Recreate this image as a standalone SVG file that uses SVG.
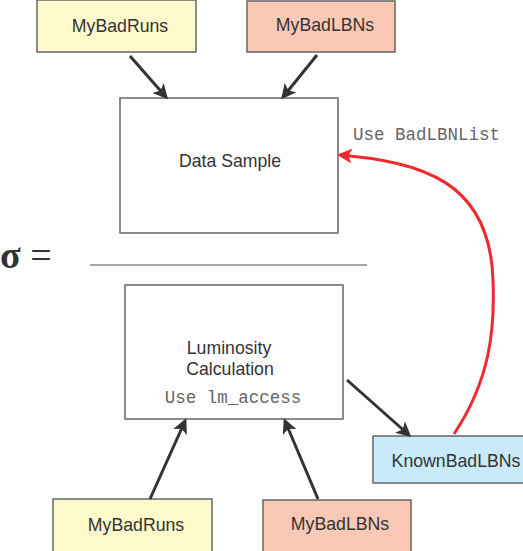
<svg xmlns="http://www.w3.org/2000/svg" width="523" height="551" viewBox="0 0 523 551">
<style>
.box{stroke:#666;stroke-width:1.5}
.lbl{font-family:"Liberation Sans",Arial,sans-serif;font-size:17.7px;fill:#333;text-anchor:middle}
.mono{font-family:"Liberation Mono","Courier New",monospace;font-size:17.5px;fill:#666}
.conn{stroke:#333;stroke-width:3;fill:none;marker-end:url(#ah)}
</style>
<defs>
<marker id="ah" markerWidth="5" markerHeight="5" refX="4" refY="2.5" orient="auto" markerUnits="strokeWidth">
<path d="M0,0 L5,2.5 L0,5 L1.2,2.5 Z" fill="#333"/>
</marker>
<marker id="ahr" markerWidth="5" markerHeight="5" refX="4" refY="2.5" orient="auto" markerUnits="strokeWidth">
<path d="M0,0 L5,2.5 L0,5 L1.2,2.5 Z" fill="#ee2a2f"/>
</marker>
</defs>
<rect width="523" height="551" fill="#fff"/>
<g id="top-runs"><rect class="box" x="37" y="0" width="159" height="52" fill="#fefacc"/><text class="lbl" x="120" y="32">MyBadRuns</text></g>
<g id="top-lbns"><rect class="box" x="247" y="1" width="148" height="51" fill="#fbc8b6"/><text class="lbl" x="325" y="31">MyBadLBNs</text></g>
<g id="data-sample"><rect class="box" x="120" y="98" width="218" height="135" fill="#fff"/><text class="lbl" x="230" y="167">Data Sample</text></g>
<g id="use-badlbnlist"><text class="mono" x="353" y="140">Use BadLBNList</text></g>
<g id="sigma"><text x="0" y="268" font-family="'Liberation Serif','Times New Roman',serif" font-size="38" fill="#333"><tspan font-weight="bold">σ</tspan> =</text><line x1="90" y1="265" x2="367" y2="265" stroke="#888" stroke-width="1.5"/></g>
<g id="lumi"><rect class="box" x="125" y="285" width="218" height="134" fill="#fff"/><text class="lbl" x="229" y="354">Luminosity</text><text class="lbl" x="230" y="375">Calculation</text><text class="mono" x="233" y="403" text-anchor="middle">Use lm_access</text></g>
<g id="known"><rect class="box" x="373" y="436" width="151" height="47" fill="#c8eafa"/><text class="lbl" x="456" y="467">KnownBadLBNs</text></g>
<g id="bot-runs"><rect class="box" x="53" y="499" width="159" height="53" fill="#fefacc"/><text class="lbl" x="136" y="531">MyBadRuns</text></g>
<g id="bot-lbns"><rect class="box" x="263" y="500" width="148" height="52" fill="#fbc8b6"/><text class="lbl" x="340" y="530">MyBadLBNs</text></g>
<g id="connectors">
<line class="conn" x1="130" y1="56" x2="166" y2="97"/>
<line class="conn" x1="317" y1="55" x2="283" y2="97"/>
<line class="conn" x1="150" y1="499" x2="185" y2="421"/>
<line class="conn" x1="318" y1="499" x2="285" y2="421"/>
<line class="conn" x1="347" y1="380" x2="409" y2="435"/>
<path d="M454,434 C490,380 495,330 493,280 C490,180 420,162 340,155" fill="none" stroke="#ee2a2f" stroke-width="3" marker-end="url(#ahr)"/>
</g>
</svg>
